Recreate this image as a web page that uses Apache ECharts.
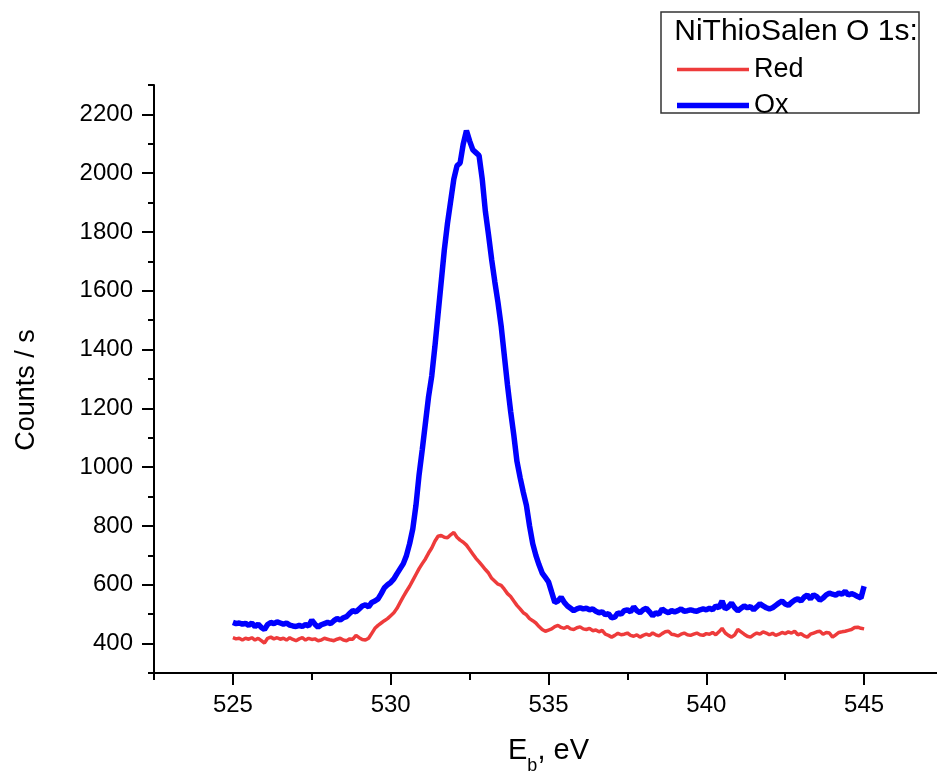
<!DOCTYPE html>
<html>
<head>
<meta charset="utf-8">
<script src="https://cdn.jsdelivr.net/npm/echarts@6/dist/echarts.min.js"></script>
<style>
html,body{margin:0;padding:0;background:#fff;}
#chart{width:937px;height:772px;}
</style>
</head>
<body>
<div id="chart"></div>
<script>
// Binding energy grid (eV)
const energies = [
525.0,525.1,525.2,525.3,525.4,525.5,525.6,525.7,525.8,525.9,526.0,
526.1,526.2,526.3,526.4,526.5,526.6,526.7,526.8,526.9,527.0,
527.1,527.2,527.3,527.4,527.5,527.6,527.7,527.8,527.9,528.0,
528.1,528.2,528.3,528.4,528.5,528.6,528.7,528.8,528.9,529.0,
529.1,529.2,529.3,529.4,529.5,529.6,529.7,529.8,529.9,530.0,
530.1,530.2,530.3,530.4,530.5,530.6,530.7,530.8,530.9,531.0,
531.1,531.2,531.3,531.4,531.5,531.6,531.7,531.8,531.9,532.0,
532.1,532.2,532.3,532.4,532.5,532.6,532.7,532.8,532.9,533.0,
533.1,533.2,533.3,533.4,533.5,533.6,533.7,533.8,533.9,534.0,
534.1,534.2,534.3,534.4,534.5,534.6,534.7,534.8,534.9,535.0,
535.1,535.2,535.3,535.4,535.5,535.6,535.7,535.8,535.9,536.0,
536.1,536.2,536.3,536.4,536.5,536.6,536.7,536.8,536.9,537.0,
537.1,537.2,537.3,537.4,537.5,537.6,537.7,537.8,537.9,538.0,
538.1,538.2,538.3,538.4,538.5,538.6,538.7,538.8,538.9,539.0,
539.1,539.2,539.3,539.4,539.5,539.6,539.7,539.8,539.9,540.0,
540.1,540.2,540.3,540.4,540.5,540.6,540.7,540.8,540.9,541.0,
541.1,541.2,541.3,541.4,541.5,541.6,541.7,541.8,541.9,542.0,
542.1,542.2,542.3,542.4,542.5,542.6,542.7,542.8,542.9,543.0,
543.1,543.2,543.3,543.4,543.5,543.6,543.7,543.8,543.9,544.0,
544.1,544.2,544.3,544.4,544.5,544.6,544.7,544.8,544.9,545.0
];

// Counts / s, reduced sample
const redCounts = [
420,416,418,412,418,415,420,412,418,410,402,
418,422,416,420,415,418,412,420,414,410,
416,420,412,418,414,416,410,412,418,415,
412,410,415,418,412,410,416,415,428,420,
414,412,418,435,452,462,470,478,485,495,
505,520,540,560,578,595,615,635,655,672,
688,708,725,748,765,768,762,760,770,778,
762,752,745,735,720,705,690,678,665,652,
640,622,612,602,598,585,570,560,545,530,
518,505,498,485,478,470,458,448,442,446,
450,458,462,455,452,458,450,448,454,457,
450,448,452,444,446,440,445,432,428,422,
428,435,430,432,436,428,425,430,422,428,
432,428,436,430,426,434,440,442,432,430,
426,432,436,430,428,432,436,430,428,434,
432,438,430,440,452,436,428,422,430,448,
440,432,425,422,430,436,432,440,436,430,
435,428,432,438,434,440,436,442,430,434,
426,422,432,436,440,442,432,438,436,422,
430,438,440,442,445,448,455,456,452,450
];

// Counts / s, oxidized sample
const oxCounts = [
472,468,470,466,469,462,470,458,466,455,448,
465,472,468,474,470,466,470,463,460,458,
462,458,465,460,480,466,456,464,468,472,
468,478,485,480,488,492,503,512,508,518,
528,532,525,540,545,552,570,590,600,608,
620,638,655,672,700,740,790,870,975,1060,
1150,1240,1310,1410,1520,1630,1740,1830,1905,1980,
2025,2035,2100,2145,2110,2080,2070,2060,1980,1870,
1790,1705,1630,1560,1480,1380,1280,1190,1110,1020,
965,915,870,800,740,700,668,640,625,610,
575,540,545,558,540,528,520,512,518,522,
518,520,515,518,510,505,508,498,502,488,
490,505,500,512,515,508,525,512,505,515,
520,508,495,505,500,518,510,505,512,508,
512,518,510,512,515,512,510,515,518,515,
520,515,528,522,545,518,525,538,522,512,
520,528,522,526,515,525,536,528,522,518,
522,530,538,545,535,530,540,548,552,545,
558,565,552,566,560,548,555,566,572,568,
565,572,568,578,565,570,566,560,555,595
];

const xMajorTicks = [525, 530, 535, 540, 545];
const yMajorTicks = [400, 600, 800, 1000, 1200, 1400, 1600, 1800, 2000, 2200];
const seriesNames = ['Red', 'Ox'];
const legendTitle = 'NiThioSalen O 1s:';

const FONT = '"Liberation Sans", Arial, sans-serif';
const RED = '#EE3B3B';
const BLUE = '#0000FF';

function pairs(xs, ys) { return xs.map((x, i) => [x, ys[i]]); }

const chart = echarts.init(document.getElementById('chart'), null, {renderer: 'canvas'});

const axisBlack = {color: '#000', width: 2};

const option = {
  backgroundColor: '#fff',
  animation: false,
  textStyle: {fontFamily: FONT},
  grid: {left: 154, top: 85, width: 789, height: 588, containLabel: false, outerBoundsMode: 'none'},
  xAxis: [
    {
      type: 'value', min: 522.5, max: 547.5, position: 'bottom',
      axisLine: {show: true, onZero: false, lineStyle: axisBlack},
      axisTick: {show: true, customValues: xMajorTicks, length: 12, lineStyle: axisBlack},
      axisLabel: {show: true, customValues: xMajorTicks, fontSize: 24, color: '#000', margin: 20,
                  fontFamily: FONT, formatter: v => String(v)},
      splitLine: {show: false},
      name: '{a|E}{b|b}{a|, eV}',
      nameLocation: 'middle',
      nameGap: 54,
      nameTextStyle: {
        fontFamily: FONT, color: '#000',
        rich: {
          a: {fontSize: 29, fontFamily: FONT, color: '#000'},
          b: {fontSize: 18, fontFamily: FONT, color: '#000', padding: [30, 0, 0, 0]}
        }
      }
    },
    {
      type: 'value', min: 522.5, max: 547.5, interval: 2.5, position: 'bottom',
      axisLine: {show: false, onZero: false},
      axisTick: {show: true, length: 7, lineStyle: axisBlack},
      axisLabel: {show: false},
      splitLine: {show: false}
    }
  ],
  yAxis: [
    {
      type: 'value', min: 300, max: 2300, position: 'left',
      axisLine: {show: true, onZero: false, lineStyle: axisBlack},
      axisTick: {show: true, customValues: yMajorTicks, length: 12, lineStyle: axisBlack},
      axisLabel: {show: true, customValues: yMajorTicks, fontSize: 24, color: '#000', margin: 21,
                  fontFamily: FONT, formatter: v => String(v)},
      splitLine: {show: false},
      name: 'Counts / s',
      nameLocation: 'middle',
      nameGap: 114,
      nameTextStyle: {fontSize: 27, color: '#000', fontFamily: FONT, padding: [0, 22, 0, 0]}
    },
    {
      type: 'value', min: 300, max: 2300, interval: 100, position: 'left',
      axisLine: {show: false, onZero: false},
      axisTick: {show: true, length: 6, lineStyle: axisBlack},
      axisLabel: {show: false},
      splitLine: {show: false}
    }
  ],
  legend: {
    data: [
      {name: seriesNames[0], icon: 'path://M0,0L72,0L72,3.5L0,3.5Z', itemStyle: {color: RED}},
      {name: seriesNames[1], icon: 'path://M0,0L72,0L72,5.5L0,5.5Z', itemStyle: {color: BLUE}}
    ],
    orient: 'vertical',
    left: 672, top: 51,
    itemWidth: 72, itemHeight: 26, itemGap: 9,
    textStyle: {fontSize: 27, color: '#000', fontFamily: FONT},
    z: 10
  },
  graphic: [
    {type: 'rect', z: 1, shape: {x: 661, y: 12, width: 258, height: 101},
     style: {fill: '#fff', stroke: '#333', lineWidth: 1.5}},
    {type: 'text', z: 2, x: 796, y: 32,
     style: {text: legendTitle, font: '30px ' + FONT, fill: '#000', align: 'center', verticalAlign: 'middle'}}
  ],
  series: [
    {
      name: seriesNames[0], type: 'line', xAxisIndex: 0, yAxisIndex: 0,
      data: pairs(energies, redCounts), showSymbol: false, symbol: 'none',
      lineStyle: {color: RED, width: 3.5}, itemStyle: {color: RED}, z: 3
    },
    {
      name: seriesNames[1], type: 'line', xAxisIndex: 0, yAxisIndex: 0,
      data: pairs(energies, oxCounts), showSymbol: false, symbol: 'none',
      lineStyle: {color: BLUE, width: 5.5}, itemStyle: {color: BLUE}, z: 4
    }
  ]
};
chart.setOption(option);
</script>
</body>
</html>
